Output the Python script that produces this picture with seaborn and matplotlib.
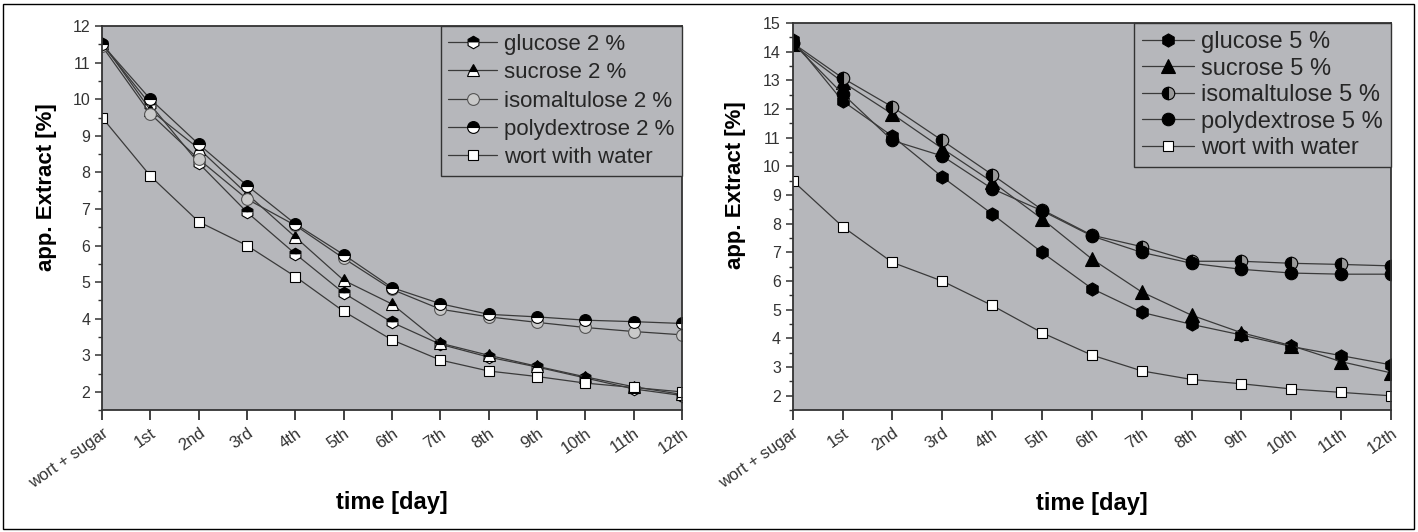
import numpy as np
import pandas as pd
import matplotlib
matplotlib.use("Agg")
import matplotlib.pyplot as plt
from matplotlib.patches import Rectangle
import seaborn as sns

# === Daten ===
day_labels = ["wort + sugar", "1st", "2nd", "3rd", "4th", "5th", "6th",
              "7th", "8th", "9th", "10th", "11th", "12th"]
days = list(range(len(day_labels)))

wort_water = [9.5, 7.9, 6.65, 6.0, 5.15, 4.2, 3.42, 2.87, 2.57, 2.42, 2.24, 2.12, 2.0]

glucose_2 = [11.5, 9.85, 8.25, 6.91, 5.77, 4.7, 3.9, 3.3, 2.95, 2.68, 2.38, 2.08, 1.9]
sucrose_2 = [11.55, 9.7, 8.65, 7.41, 6.23, 5.05, 4.4, 3.33, 3.0, 2.7, 2.41, 2.14, 1.93]
isomaltulose_2 = [11.45, 9.6, 8.36, 7.27, 6.55, 5.65, 4.8, 4.26, 4.05, 3.9, 3.76, 3.65, 3.56]
polydextrose_2 = [11.5, 10.0, 8.77, 7.64, 6.59, 5.75, 4.85, 4.41, 4.12, 4.05, 3.96, 3.92, 3.87]

glucose_5 = [14.4, 12.28, 11.05, 9.63, 8.34, 7.0, 5.74, 4.91, 4.49, 4.12, 3.72, 3.4, 3.08]
sucrose_5 = [14.25, 12.94, 11.82, 10.62, 9.46, 8.17, 6.77, 5.62, 4.81, 4.2, 3.75, 3.19, 2.8]
isomaltulose_5 = [14.3, 13.08, 12.07, 10.9, 9.71, 8.49, 7.6, 7.2, 6.69, 6.69, 6.62, 6.58, 6.53]
polydextrose_5 = [14.3, 12.53, 10.9, 10.36, 9.22, 8.45, 7.57, 7.0, 6.62, 6.41, 6.28, 6.24, 6.24]

BG = "#b6b7bb"
LINE = "#3a3a3a"

# Markerstile je Serie
style_2 = {
    "glucose 2 %": dict(marker="h", markersize=9, markerfacecolor="black",
                        markerfacecoloralt="white", fillstyle="top"),
    "sucrose 2 %": dict(marker="^", markersize=9, markerfacecolor="black",
                        markerfacecoloralt="white", fillstyle="top"),
    "isomaltulose 2 %": dict(marker="o", markersize=8.5, markerfacecolor="#c9c9c9",
                             markeredgecolor="#555555"),
    "polydextrose 2 %": dict(marker="o", markersize=8.5, markerfacecolor="black",
                             markerfacecoloralt="white", fillstyle="top"),
    "wort with water": dict(marker="s", markersize=7.5, markerfacecolor="white"),
}
style_5 = {
    "glucose 5 %": dict(marker="h", markersize=9.5, markerfacecolor="black"),
    "sucrose 5 %": dict(marker="^", markersize=9.5, markerfacecolor="black"),
    "isomaltulose 5 %": dict(marker="o", markersize=9, markerfacecolor="black",
                             markerfacecoloralt="#9a9a9a", fillstyle="left"),
    "polydextrose 5 %": dict(marker="o", markersize=9, markerfacecolor="black"),
    "wort with water": dict(marker="s", markersize=7.5, markerfacecolor="white"),
}

# (Serien, Stile, y-Grenzen, y-Ticks, Legendenschrift, Zeilenabstand, Achsenposition)
panels = [
    ({"glucose 2 %": glucose_2, "sucrose 2 %": sucrose_2,
      "isomaltulose 2 %": isomaltulose_2, "polydextrose 2 %": polydextrose_2,
      "wort with water": wort_water}, style_2, (1.57, 12), np.arange(2, 13, 1),
     16, 0.33, [0.072, 0.229, 0.409, 0.722]),
    ({"glucose 5 %": glucose_5, "sucrose 5 %": sucrose_5,
      "isomaltulose 5 %": isomaltulose_5, "polydextrose 5 %": polydextrose_5,
      "wort with water": wort_water}, style_5, (1.83, 15), np.arange(2, 16, 1),
     17, 0.19, [0.559, 0.229, 0.422, 0.728]),
]

sns.set_theme(style="ticks")
plt.rcParams["font.family"] = ["Liberation Sans", "DejaVu Sans"]

fig = plt.figure(figsize=(14.18, 5.32), dpi=100)

for series, styles, ylim, yticks, leg_fs, leg_sp, pos in panels:
    ax = fig.add_axes(pos)
    ax.set_facecolor(BG)
    handles = []
    for name, vals in series.items():
        df = pd.DataFrame({"day": days, "extract": vals})
        kw = dict(markeredgecolor="black", markeredgewidth=0.8)
        kw.update(styles[name])
        sns.lineplot(data=df, x="day", y="extract", ax=ax, color=LINE,
                     linewidth=0.9, label=name, legend=False, **kw)
        handles.append(ax.lines[-1])

    ax.set_xlim(0, 12)
    ax.set_ylim(*ylim)
    ax.set_xticks(days)
    ax.set_xticklabels(day_labels, rotation=35, ha="right", rotation_mode="anchor",
                       fontsize=12, color="#333333")
    ax.set_yticks(yticks)
    ax.set_yticks(np.arange(yticks[0] - 0.5, ylim[1], 0.5), minor=True)
    ax.tick_params(axis="y", labelsize=11.5, colors="#333333", length=5, width=1.1)
    ax.tick_params(axis="y", which="minor", length=3, width=1.0, color="#333333")
    ax.tick_params(axis="x", length=7, width=1.3, color="#333333", pad=4)
    for sp in ax.spines.values():
        sp.set_color("#333333")
        sp.set_linewidth(1.3)

    ax.set_xlabel("time [day]", fontsize=17, fontweight="bold", color="black")
    ax.set_ylabel("app. Extract [%]", fontsize=16, fontweight="bold", color="black")
    ax.xaxis.set_label_coords(0.5, -0.21)
    ax.yaxis.set_label_coords(-0.078, 0.58)

    leg = ax.legend(handles=handles, loc="upper right", bbox_to_anchor=(1.0, 1.0),
                    borderaxespad=0, fontsize=leg_fs, frameon=True, fancybox=False,
                    labelspacing=leg_sp, handlelength=2.2, handletextpad=0.3,
                    borderpad=0.35)
    frame = leg.get_frame()
    frame.set_facecolor(BG)
    frame.set_edgecolor("#333333")
    frame.set_linewidth(1.0)
    frame.set_alpha(1)

fig.patches.append(Rectangle((0.002, 0.005), 0.995, 0.987, transform=fig.transFigure,
                             fill=False, edgecolor="black", linewidth=1.0))

fig.savefig("out.png", dpi=100)
